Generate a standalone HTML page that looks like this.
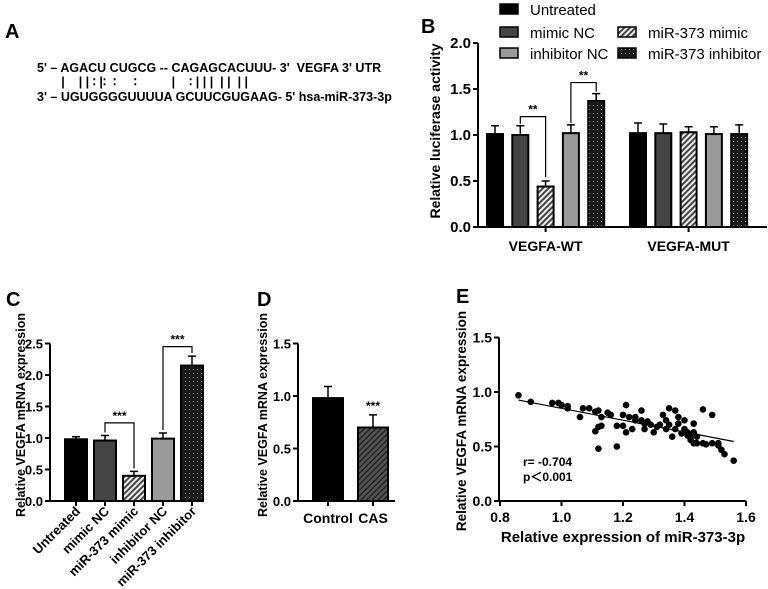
<!DOCTYPE html>
<html><head><meta charset="utf-8"><style>
html,body{margin:0;padding:0;background:#fff;}
svg{display:block;font-family:"Liberation Sans",Arial,sans-serif;font-weight:bold;}
</style></head><body>
<svg id="fig" width="768" height="589" viewBox="0 0 768 589" xmlns="http://www.w3.org/2000/svg">
<defs>
<pattern id="hatch" width="4" height="4" patternUnits="userSpaceOnUse" patternTransform="rotate(45)">
<rect width="4" height="4" fill="#eee"/><rect width="2" height="4" fill="#444"/></pattern>
<pattern id="dots" width="4" height="4" patternUnits="userSpaceOnUse">
<rect width="4" height="4" fill="#1a1a1a"/><rect x="1" y="1" width="1" height="1" fill="#888"/></pattern>
<pattern id="hatchD" width="4" height="4" patternUnits="userSpaceOnUse" patternTransform="rotate(45)">
<rect width="4" height="4" fill="#555"/><rect width="1.5" height="4" fill="#222"/></pattern>
</defs>
<!-- Panel A -->
<g>
<text x="5" y="38" font-size="20">A</text>
<text x="37" y="72" font-size="12.5" style="font-weight:600" xml:space="preserve">5' – AGACU CUGCG -- CAGAGCACUUU- 3'  <tspan font-weight="bold">VEGFA 3' UTR</tspan></text>
<text x="37" y="86" font-size="12.5" style="font-weight:600" xml:space="preserve">       |    | | ∶ |∶  ∶     ∶          |    ∶ | | |  | |  | |</text>
<text x="37" y="101" font-size="12.5" style="font-weight:600" xml:space="preserve">3' – UGUGGGGUUUUA GCUUCGUGAAG- 5' <tspan font-weight="bold">hsa-miR-373-3p</tspan></text>
</g>
<g id="pb"></g>
<g id="pc"></g>
<g id="pd"></g>
<g id="pe"></g>
</svg>
<script>
// Panel B data
const bGroups = ["VEGFA-WT","VEGFA-MUT"];
const bSeries = ["Untreated","mimic NC","inhibitor NC","miR-373 mimic","miR-373 inhibitor"];
const bWT = [1.01,1.00,0.44,1.02,1.37];
const bWTerr = [0.09,0.10,0.06,0.09,0.08];
const bMUT = [1.02,1.02,1.03,1.01,1.01];
const bMUTerr = [0.11,0.10,0.06,0.08,0.10];
const bTicks = ["0.0","0.5","1.0","1.5","2.0"];
// Panel C data
const cCats = ["Untreated","mimic NC","miR-373 mimic","inhibitor NC","miR-373 inhibitor"];
const cVals = [0.98,0.96,0.40,0.99,2.15];
const cErr = [0.04,0.08,0.07,0.09,0.15];
const cTicks = ["0.0","0.5","1.0","1.5","2.0","2.5"];
// Panel D data
const dCats = ["Control","CAS"];
const dVals = [0.98,0.70];
const dErr = [0.11,0.12];
const dTicks = ["0.0","0.5","1.0","1.5"];
// Panel E data
const eX = [0.86,0.90,0.97,0.99,1.00,1.02,1.02,1.06,1.07,1.09,1.11,1.12,1.13,1.11,1.12,1.13,1.12,1.15,1.16,1.18,1.18,1.20,1.21,1.20,1.21,1.22,1.23,1.24,1.24,1.26,1.26,1.27,1.27,1.28,1.29,1.30,1.31,1.32,1.33,1.34,1.34,1.35,1.35,1.36,1.37,1.37,1.38,1.38,1.39,1.40,1.40,1.41,1.41,1.42,1.42,1.43,1.43,1.43,1.44,1.44,1.46,1.46,1.47,1.49,1.49,1.51,1.51,1.52,1.53,1.56];
const eY = [0.97,0.91,0.90,0.90,0.88,0.85,0.87,0.77,0.85,0.85,0.82,0.83,0.77,0.64,0.68,0.69,0.48,0.81,0.79,0.50,0.69,0.79,0.88,0.69,0.63,0.77,0.66,0.74,0.77,0.83,0.74,0.71,0.66,0.73,0.70,0.63,0.68,0.70,0.79,0.74,0.66,0.85,0.70,0.59,0.66,0.83,0.77,0.71,0.62,0.66,0.74,0.60,0.63,0.59,0.56,0.71,0.63,0.53,0.59,0.53,0.84,0.53,0.52,0.79,0.53,0.51,0.53,0.47,0.43,0.37];
const eXTicks = ["0.8","1.0","1.2","1.4","1.6"];
const eYTicks = ["0.0","0.5","1.0","1.5"];

const NS="http://www.w3.org/2000/svg";
function mk(p,tag,attrs,txt){const e=document.createElementNS(NS,tag);for(const k in attrs)e.setAttribute(k,attrs[k]);if(txt!==undefined)e.textContent=txt;p.appendChild(e);return e;}
const fills=["#000","#444","#9a9a9a","url(#hatch)","url(#dots)"];

function bar(g,cx,w,y0,yv,yerr,fill,name){
  const r=mk(g,'rect',{x:cx-w/2,y:yv,width:w,height:y0-yv,fill:fill,stroke:'#000','stroke-width':2});
  
  
  const l=mk(g,'path',{d:`M${cx} ${yv}V${yerr}M${cx-4} ${yerr}H${cx+4}`,stroke:'#000','stroke-width':1.5,fill:'none'});
  
  
}
function yaxis(g,x,y0,y1,ticks,vmax,name,fs){
  const a=mk(g,'path',{d:`M${x} ${y1}V${y0}`,stroke:'#000','stroke-width':2});
  
  
  ticks.forEach((t,i)=>{const y=y0-(y0-y1)*parseFloat(t)/vmax;
    mk(g,'path',{d:`M${x-5} ${y}H${x}`,stroke:'#000','stroke-width':2});
    const tx=mk(g,'text',{x:x-7,y:y+5,'font-size':fs||14,'text-anchor':'end'},t);
    
    });
}
function bracket(g,x1,ya,x2,yb,ytop,lbl){
  mk(g,'path',{d:`M${x1} ${ya}V${ytop}H${x2}V${yb}`,stroke:'#000','stroke-width':1.2,fill:'none'});
  const t=mk(g,'text',{x:(x1+x2)/2,y:ytop-3,'font-size':12,'text-anchor':'middle'},lbl);
  
  
}
// ---- Panel B
(function(){
  const g=document.getElementById('pb');
  const X=478,Y0=227,U=92;const sy=v=>Y0-v*U;
  mk(g,'text',{x:421,y:33,'font-size':20},'B');
  yaxis(g,X,Y0,sy(2),bTicks,2,'b-y-axis',15);
  const xa=mk(g,'path',{d:`M${X} ${Y0}H767`,stroke:'#000','stroke-width':2});
  
  const yl=mk(g,'text',{x:0,y:0,'font-size':14,'text-anchor':'middle',transform:'translate(440,131) rotate(-90)'},'Relative luciferase activity');
  
  
  const starts=[495,638];
  const order=[0,1,3,2,4];
  [bWT,bMUT].forEach((vals,gi)=>{
    const errs=gi?bMUTerr:bWTerr;
    const bx=[];
    order.forEach((si,k)=>{const cx=starts[gi]+k*25.3;bx.push(cx);
      bar(g,cx,16,Y0,sy(vals[k]),sy(vals[k]+errs[k]),fills[si],'bar-'+bGroups[gi].toLowerCase()+'-'+k);});
    mk(g,'path',{d:`M${(bx[0]+bx[4])/2} ${Y0}v5`,stroke:'#000','stroke-width':2});
    const t=mk(g,'text',{x:(bx[0]+bx[4])/2,y:251,'font-size':14,'text-anchor':'middle'},bGroups[gi]);
    
    
    if(gi===0){
      bracket(g,bx[1],sy(vals[1]+errs[1])-2,bx[2],sy(vals[2]+errs[2])-4,sy(1.2),'**');
      bracket(g,bx[3],sy(vals[3]+errs[3])-2,bx[4],sy(vals[4]+errs[4])-2,sy(1.57),'**');
    }
  });
  const leg=[[0,500,9],[1,500,32],[2,500,53],[3,618,32],[4,618,53]];
  leg.forEach(([si,x,y])=>{
    const r=mk(g,'rect',{x:x,y:y-5,width:18,height:10,fill:fills[si],stroke:'#000','stroke-width':1.5});
    
    
    const t=mk(g,'text',{x:x+30,y:y+6,'font-size':15,'font-weight':'normal'},bSeries[si]);
    
    
  });
})();
// ---- Panel C
(function(){
  const g=document.getElementById('pc');
  const X=50,Y0=501,U=63;const sy=v=>Y0-v*U;
  mk(g,'text',{x:6,y:306,'font-size':20},'C');
  yaxis(g,X,Y0,sy(2.5),cTicks,2.5,'c-y-axis',13);
  mk(g,'path',{d:`M${X} ${Y0}H203`,stroke:'#000','stroke-width':2});
  const yl=mk(g,'text',{x:0,y:0,'font-size':12.5,'text-anchor':'middle',transform:'translate(25,415) rotate(-90)'},'Relative VEGFA mRNA expression');
  
  const cf=[fills[0],fills[1],fills[3],fills[2],fills[4]];
  const bx=[];
  cCats.forEach((c,i)=>{const cx=76+i*29;bx.push(cx);
    bar(g,cx,22,Y0,sy(cVals[i]),sy(cVals[i]+cErr[i]),cf[i],'bar-c-'+i);
    mk(g,'path',{d:`M${cx} ${Y0}v5`,stroke:'#000','stroke-width':2});
    const t=mk(g,'text',{x:0,y:0,'font-size':13,'text-anchor':'end',transform:`translate(${cx+5},${Y0+11}) rotate(-45)`},c);
    
    });
  bracket(g,bx[1],sy(cVals[1]+cErr[1])-3,bx[2],sy(cVals[2]+cErr[2])-3,sy(1.24),'***');
  bracket(g,bx[3],sy(cVals[3]+cErr[3])-3,bx[4],sy(cVals[4]+cErr[4])-3,sy(2.45),'***');
})();
// ---- Panel D
(function(){
  const g=document.getElementById('pd');
  const X=298,Y0=501,U=105;const sy=v=>Y0-v*U;
  mk(g,'text',{x:257,y:306,'font-size':20},'D');
  yaxis(g,X,Y0,sy(1.5),dTicks,1.5,'d-y-axis',13);
  mk(g,'path',{d:`M${X} ${Y0}H395`,stroke:'#000','stroke-width':2});
  const yl=mk(g,'text',{x:0,y:0,'font-size':12.5,'text-anchor':'middle',transform:'translate(267,415) rotate(-90)'},'Relative VEGFA mRNA expression');
  
  const df=['#000','url(#hatchD)'];
  dCats.forEach((c,i)=>{const cx=328+i*45;
    bar(g,cx,30,Y0,sy(dVals[i]),sy(dVals[i]+dErr[i]),df[i],'bar-d-'+c.toLowerCase());
    mk(g,'path',{d:`M${cx} ${Y0}v5`,stroke:'#000','stroke-width':2});
    const t=mk(g,'text',{x:cx,y:Y0+22,'font-size':14,'text-anchor':'middle'},c);
    });
  const s=mk(g,'text',{x:373,y:sy(dVals[1]+dErr[1])-5,'font-size':12,'text-anchor':'middle'},'***');
  
})();
// ---- Panel E
(function(){
  const g=document.getElementById('pe');
  const X=499,Y0=501,U=109;const sy=v=>Y0-v*U;const sx=v=>500+(v-0.8)*307.5;
  mk(g,'text',{x:456,y:303,'font-size':20},'E');
  yaxis(g,X,Y0,sy(1.5),eYTicks,1.5,'e-y-axis',14);
  mk(g,'path',{d:`M${X} ${Y0}H${sx(1.6)}`,stroke:'#000','stroke-width':2});
  eXTicks.forEach(t=>{const x=sx(parseFloat(t));
    mk(g,'path',{d:`M${x} ${Y0}v5`,stroke:'#000','stroke-width':2});
    const tx=mk(g,'text',{x:x,y:Y0+21,'font-size':14,'text-anchor':'middle'},t);
    });
  const yl=mk(g,'text',{x:0,y:0,'font-size':13.5,'text-anchor':'middle',transform:'translate(466,421) rotate(-90)'},'Relative VEGFA mRNA expression');
  
  const xl=mk(g,'text',{x:623,y:542,'font-size':15,'text-anchor':'middle'},'Relative expression of miR-373-3p');
  
  const n=eX.length;let mx=0,my=0;for(let i=0;i<n;i++){mx+=eX[i];my+=eY[i];}mx/=n;my/=n;
  let sxy=0,sxx=0;for(let i=0;i<n;i++){sxy+=(eX[i]-mx)*(eY[i]-my);sxx+=(eX[i]-mx)**2;}
  const b=sxy/sxx,a=my-b*mx;const xmin=Math.min(...eX),xmax=Math.max(...eX);
  const rl=mk(g,'line',{x1:sx(xmin),y1:sy(a+b*xmin),x2:sx(xmax),y2:sy(a+b*xmax),stroke:'#000','stroke-width':1.2});
  
  
  for(let i=0;i<n;i++){const c=mk(g,'circle',{cx:sx(eX[i]),cy:sy(eY[i]),r:3.3,fill:'#000'});
    
    }
  const t1=mk(g,'text',{x:523,y:466,'font-size':12},'r= -0.704');
  
  const t2=mk(g,'text',{x:523,y:481,'font-size':12},'p＜0.001');
  
})();
</script>
</body></html>
